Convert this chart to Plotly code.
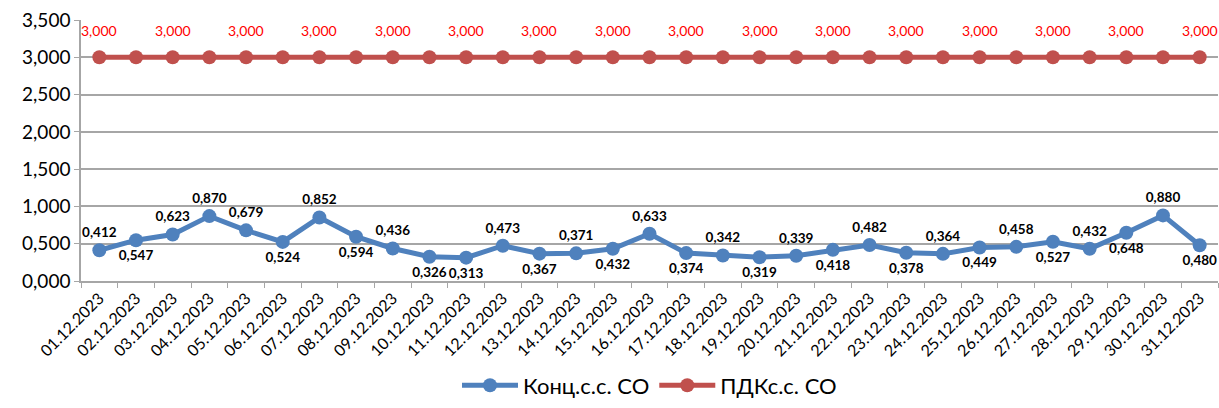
import plotly.graph_objects as go

dates = [f"{d:02d}.12.2023" for d in range(1, 32)]
conc = [0.412, 0.547, 0.623, 0.870, 0.679, 0.524, 0.852, 0.594, 0.436, 0.326,
        0.313, 0.473, 0.367, 0.371, 0.432, 0.633, 0.374, 0.342, 0.319, 0.339,
        0.418, 0.482, 0.378, 0.364, 0.449, 0.458, 0.527, 0.432, 0.648, 0.880, 0.480]
pdk = [3.0] * 31
conc_pos = ["top center", "bottom center", "top center", "top center", "top center",
            "bottom center", "top center", "bottom center", "top center", "bottom center",
            "bottom center", "top center", "bottom center", "top center", "bottom center",
            "top center", "bottom center", "top center", "bottom center", "top center",
            "bottom center", "top center", "bottom center", "top center", "bottom center",
            "top center", "bottom center", "top center", "bottom center", "top center",
            "bottom center"]
y_ticks = [0, 0.5, 1.0, 1.5, 2.0, 2.5, 3.0, 3.5]

BLUE = "#4F81BD"
RED = "#C0504D"
FONT = "Lato"

fig = go.Figure()
fig.add_trace(go.Scatter(
    x=dates, y=conc, name="Конц.с.с. CO", mode="lines+markers+text",
    line=dict(color=BLUE, width=5), marker=dict(color=BLUE, size=14),
    texttemplate="%{y:.3f}", textposition=conc_pos,
    textfont=dict(family=FONT, size=13.5, color="#000000", weight="bold"),
    cliponaxis=False,
))
fig.add_trace(go.Scatter(
    x=dates, y=pdk, name="ПДКс.с. CO", mode="lines+markers",
    line=dict(color=RED, width=5), marker=dict(color=RED, size=14),
    cliponaxis=False,
))
for i, (d, v) in enumerate(zip(dates, pdk)):
    if i % 2 == 0:
        fig.add_annotation(x=d, y=v, text=f"{v:.3f}".replace(".", ","),
                           showarrow=False, yshift=27,
                           font=dict(family=FONT, size=14, color="#FF0000"))

fig.update_layout(
    width=1219, height=408,
    margin=dict(l=81, r=1, t=20, b=113),
    paper_bgcolor="white", plot_bgcolor="white",
    separators=", ",
    font=dict(family=FONT, color="#000000"),
    showlegend=True,
    legend=dict(orientation="h", x=0.5, xanchor="center", y=-0.40, yanchor="middle",
                font=dict(family=FONT, size=22, color="#000000"), itemwidth=56,
                traceorder="normal"),
)
fig.update_xaxes(
    type="category", range=[-0.5, 30.5], tickangle=-45,
    tickfont=dict(family=FONT, size=16, color="#000000"),
    showgrid=False, showline=True, linecolor="#A6A6A6", linewidth=1.5,
    ticks="outside", ticklen=5, tickcolor="#A6A6A6", tickson="boundaries",
    automargin=False,
)
fig.update_yaxes(
    range=[0, 3.5], tickvals=y_ticks, tickformat=".3f",
    tickfont=dict(family=FONT, size=19, color="#000000"),
    showgrid=True, gridcolor="#A6A6A6", gridwidth=1.5,
    showline=True, linecolor="#A6A6A6", linewidth=1.5,
    ticks="outside", ticklen=5, tickcolor="#A6A6A6", zeroline=False,
    automargin=False,
)

post = (
    "var h=document.documentElement,b=document.body;"
    "h.style.margin='0';b.style.margin='0';h.style.padding='0';b.style.padding='0';"
    "h.style.overflow='hidden';b.style.overflow='hidden';"
    "var gd=document.getElementsByClassName('plotly-graph-div')[0];"
    "gd.style.display='block';gd.parentNode.style.lineHeight='0';"
)
fig.write_html("out.html", config={"displayModeBar": False}, post_script=post)
